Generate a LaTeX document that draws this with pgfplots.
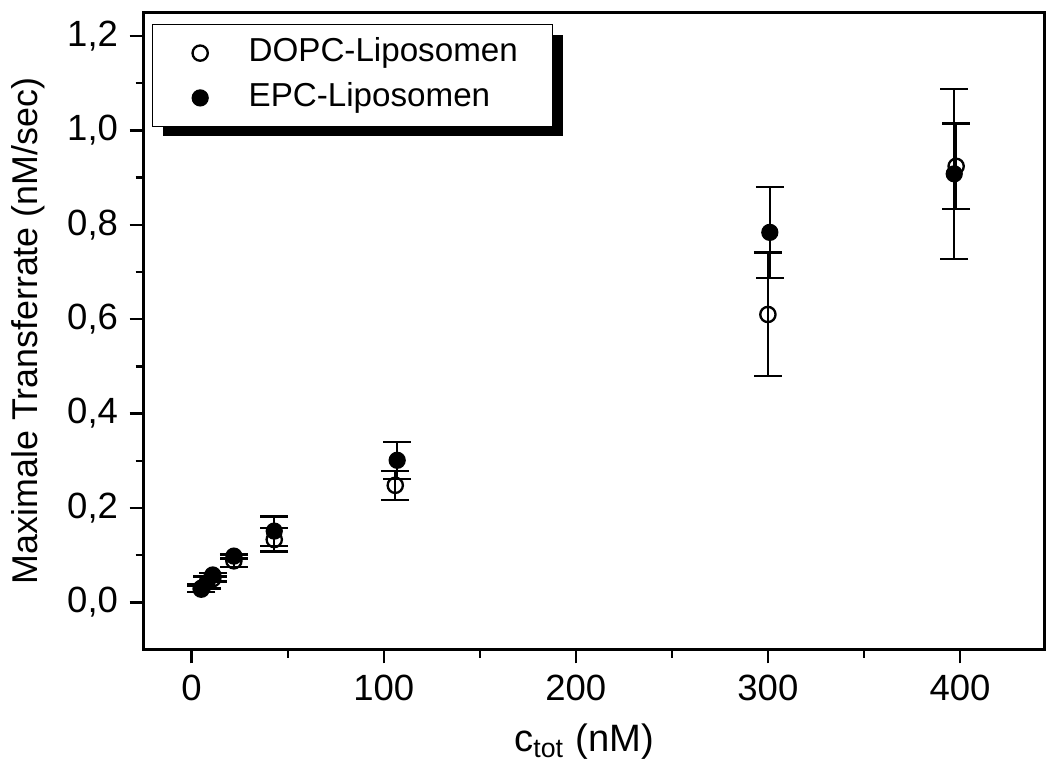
\documentclass[border=0pt]{standalone}
\usepackage{pgfplots}
\pgfplotsset{compat=1.18}
\usepackage{fontspec}
\setmainfont{Liberation Sans}
\usetikzlibrary{shadows}
\begin{document}
\begin{tikzpicture}
\begin{axis}[
  scale only axis,
  width=271.5pt, height=192pt,
  xmin=-25, xmax=444,
  ymin=-0.1, ymax=1.25,
  xtick={0,100,200,300,400},
  ytick={0,0.2,0.4,0.6,0.8,1.0,1.2},
  minor x tick num=1,
  minor y tick num=1,
  tick pos=left,
  tick align=outside,
  major tick length=4.2pt,
  minor tick length=2.4pt,
  axis line style={line width=0.9pt},
  every tick/.style={black, line width=0.7pt},
  /pgf/number format/assume math mode=true,
  /pgf/number format/use comma,
  yticklabel style={/pgf/number format/fixed, /pgf/number format/fixed zerofill, /pgf/number format/precision=1},
  ticklabel style={font=\fontsize{11}{13}\selectfont},
  xlabel={c\textsubscript{tot} (nM)},
  ylabel={Maximale Transferrate (nM/sec)},
  ylabel style={font=\fontsize{10.8}{12}\selectfont},
  xlabel style={font=\fontsize{11.5}{13}\selectfont, xshift=-3pt},
  legend style={
    at={(rel axis cs:0.009,0.982)}, anchor=north west,
    draw=black, line width=0.4pt, fill=white,
    font=\fontsize{10}{12}\selectfont,
    inner xsep=0pt, inner ysep=3.6pt,
    nodes={inner xsep=5pt, inner ysep=0pt, text height=7.5pt, text depth=2.5pt},
    row sep=3.5pt,
    drop shadow={shadow xshift=3.3pt, shadow yshift=-3pt, fill=black, opacity=1},
  },
  legend image code/.code={\path (0pt,0pt) (23.6pt,0pt); \draw[#1] plot coordinates {(14.2pt,0pt)};},
  legend cell align=left,
]
\addplot+[only marks, black, mark=o, mark size=2.3pt, mark options={line width=0.7pt, fill=white},
  error bars/.cd, y dir=both, y explicit,
  error bar style={line width=0.7pt, black},
  error mark options={rotate=90, mark size=4.2pt, line width=0.7pt, black}]
table[x=x, y=y, y error=e] {
x y e
5 0.028 0.006
11 0.050 0.006
22 0.088 0.013
43 0.133 0.025
106 0.248 0.031
300 0.610 0.131
398 0.924 0.091
};
\addlegendentry{DOPC-Liposomen\rule{5.4pt}{0pt}}
\addplot+[only marks, black, mark=*, mark size=2.4pt, mark options={fill=black},
  error bars/.cd, y dir=both, y explicit,
  error bar style={line width=0.7pt, black},
  error mark options={rotate=90, mark size=4.2pt, line width=0.7pt, black}]
table[x=x, y=y, y error=e] {
x y e
5 0.030 0.008
8 0.042 0.013
11 0.058 0.004
22 0.098 0.005
43 0.151 0.031
107 0.301 0.039
301 0.784 0.096
397 0.908 0.180
};
\addlegendentry{EPC-Liposomen}
\end{axis}
\path ([yshift=3.75pt]current axis.north);
\end{tikzpicture}
\end{document}
